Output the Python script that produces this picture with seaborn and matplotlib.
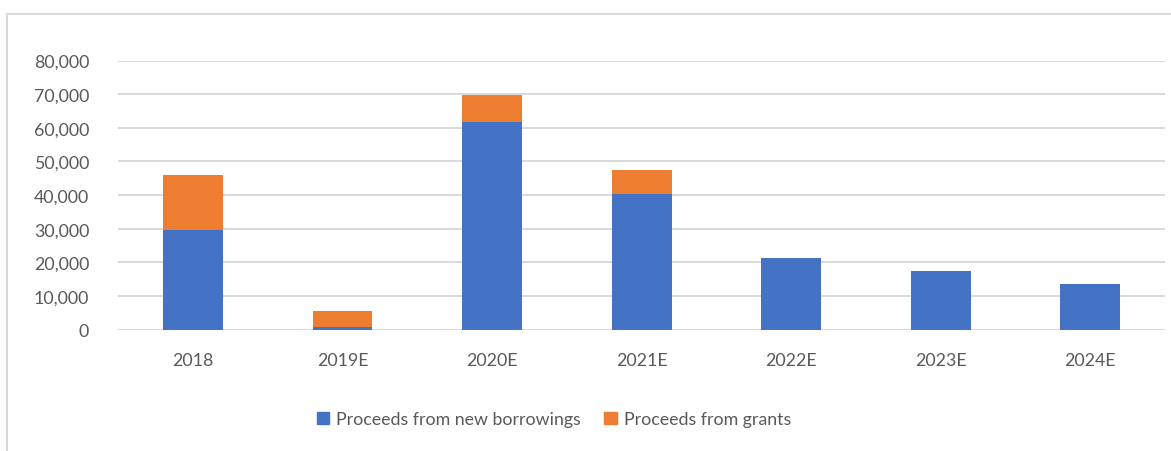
import matplotlib
matplotlib.use("Agg")
import matplotlib.pyplot as plt
import matplotlib.patches as mpatches
from matplotlib.ticker import FuncFormatter
import seaborn as sns
import pandas as pd

years = ["2018", "2019E", "2020E", "2021E", "2022E", "2023E", "2024E"]
borrowings = [29700, 700, 61700, 40300, 21300, 17300, 13500]
grants = [16300, 4900, 8000, 7200, 0, 0, 0]
series_names = ["Proceeds from new borrowings", "Proceeds from grants"]
yticks = [0, 10000, 20000, 30000, 40000, 50000, 60000, 70000, 80000]

BLUE = "#4472C4"
ORANGE = "#ED7D31"
TEXT = "#595959"
GRID = "#D9D9D9"

sns.set_theme(style="white")
plt.rcParams["font.family"] = ["Lato", "DejaVu Sans"]

df = pd.DataFrame({"year": years, "borrowings": borrowings, "grants": grants})
df["total"] = df["borrowings"] + df["grants"]

fig = plt.figure(figsize=(11.71, 4.52), dpi=100)
ax = fig.add_axes([118.3 / 1171, 1 - 330.7 / 452, (1165 - 118.3) / 1171, (330.7 - 61.5) / 452])

sns.barplot(data=df, x="year", y="total", color=ORANGE, saturation=1, width=0.40,
            linewidth=0, ax=ax, zorder=3)
sns.barplot(data=df, x="year", y="borrowings", color=BLUE, saturation=1, width=0.40,
            linewidth=0, ax=ax, zorder=4)

ax.set_ylim(0, 80000)
ax.set_xlim(-0.5, len(years) - 0.5)
ax.set_yticks(yticks)
ax.yaxis.set_major_formatter(FuncFormatter(lambda v, p: f"{int(v):,}"))
ax.yaxis.grid(True, color=GRID, linewidth=1.4, zorder=0)
ax.set_axisbelow(True)
ax.set_xlabel("")
ax.set_ylabel("")
for s in ax.spines.values():
    s.set_visible(False)
ax.tick_params(axis="y", length=0, pad=21, labelsize=12.8, labelcolor=TEXT)
ax.tick_params(axis="x", length=0, pad=16, labelsize=12.8, labelcolor=TEXT)

handles = [mpatches.Patch(color=BLUE, label=series_names[0]),
           mpatches.Patch(color=ORANGE, label=series_names[1])]
fig.legend(handles=handles, loc="center", bbox_to_anchor=(554 / 1171, 1 - 420 / 452),
           ncol=2, frameon=False, fontsize=12.8, labelcolor=TEXT,
           handlelength=0.7, handleheight=0.7, handletextpad=0.4, columnspacing=1.3)

# chart frame (left and top edges visible)
frame = mpatches.Rectangle((7 / 1171, -0.1), 1.2, 1.1 - 14.5 / 452,
                           transform=fig.transFigure, fill=False,
                           edgecolor="#D9D9D9", linewidth=1.5, zorder=0)
fig.patches.append(frame)

fig.savefig("out.png", dpi=100)
